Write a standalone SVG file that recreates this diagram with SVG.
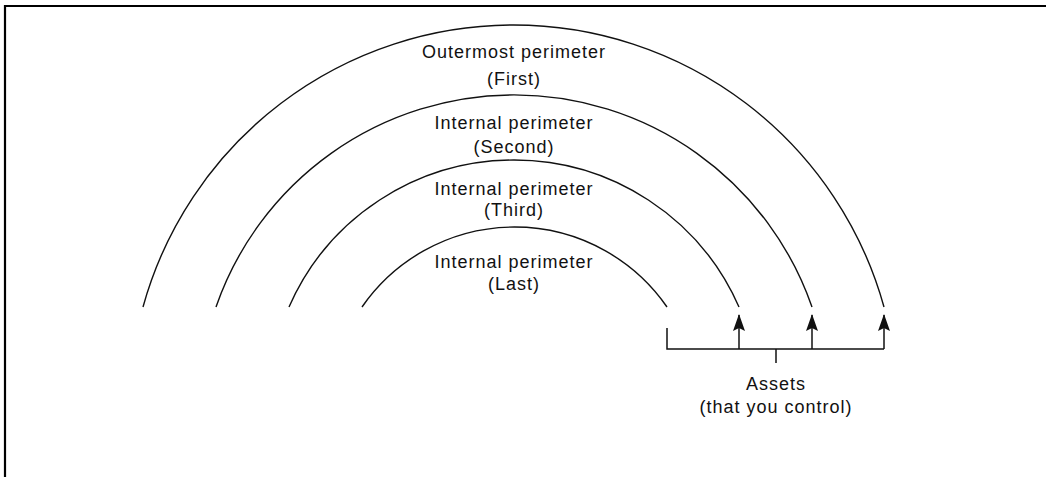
<svg xmlns="http://www.w3.org/2000/svg" width="1046" height="477" viewBox="0 0 1046 477">
  <defs>
    <style>
      .arc { fill: none; stroke: #111; stroke-width: 1.4; }
      .ln { fill: none; stroke: #111; stroke-width: 1.5; }
      .lbl { font-family: "Liberation Sans", Arial, sans-serif; font-size: 18px; letter-spacing: 1px; fill: #111; text-anchor: middle; }
      .frame { fill: none; stroke: #000; stroke-width: 2.2; }
    </style>
    <marker id="ah" viewBox="0 0 17 12" refX="16" refY="6" markerWidth="17" markerHeight="12" markerUnits="userSpaceOnUse" orient="auto">
      <path d="M17 6 L0 0 L3 6 L0 12 Z" fill="#111"/>
    </marker>
  </defs>
  <rect width="1046" height="477" fill="#fff"/>
  <path class="frame" d="M5 477 L5 6 L1046 6"/>

  <g id="perimeter-first">
    <path class="arc" d="M143 307 A384.4 384.4 0 0 1 884 307"/>
    <text class="lbl" x="514" y="58">Outermost perimeter</text>
    <text class="lbl" x="514" y="85">(First)</text>
  </g>
  <g id="perimeter-second">
    <path class="arc" d="M216 307 A315.4 315.4 0 0 1 812 307"/>
    <text class="lbl" x="514" y="129">Internal perimeter</text>
    <text class="lbl" x="514" y="153">(Second)</text>
  </g>
  <g id="perimeter-third">
    <path class="arc" d="M289 307 A245.7 245.7 0 0 1 739 307"/>
    <text class="lbl" x="514" y="195">Internal perimeter</text>
    <text class="lbl" x="514" y="216">(Third)</text>
  </g>
  <g id="perimeter-last">
    <path class="arc" d="M362 307 A185.4 185.4 0 0 1 667 307"/>
    <text class="lbl" x="514" y="268">Internal perimeter</text>
    <text class="lbl" x="514" y="290">(Last)</text>
  </g>
  <g id="assets">
    <text class="lbl" x="776" y="390">Assets</text>
    <text class="lbl" x="776" y="413">(that you control)</text>
  </g>

  <g id="connectors">
    <path class="ln" d="M667 328 L667 349 L884 349"/>
    <path class="ln" d="M776 349 L776 363"/>
    <path class="ln" d="M739 349 L739 315" marker-end="url(#ah)"/>
    <path class="ln" d="M812 349 L812 315" marker-end="url(#ah)"/>
    <path class="ln" d="M884 349 L884 315" marker-end="url(#ah)"/>
  </g>
</svg>
